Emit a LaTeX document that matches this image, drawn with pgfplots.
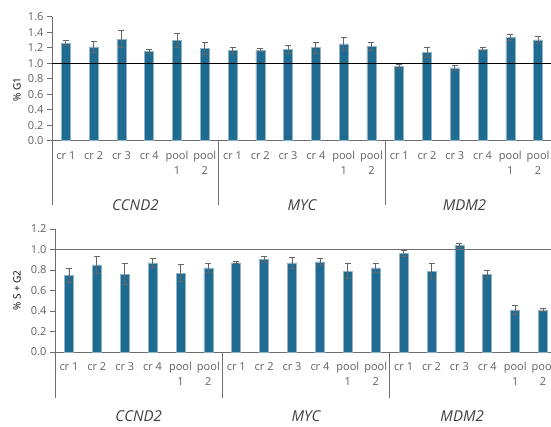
\documentclass[border=0pt]{standalone}
\usepackage{fontspec}
\setmainfont{Open Sans}
\usepackage{pgfplots}
\pgfplotsset{compat=1.18}
\usepackage{pgfplotstable}

\definecolor{barfill}{HTML}{1F6B91}
\definecolor{baredge}{HTML}{8FB4C8}
\definecolor{txtgray}{HTML}{606060}
\definecolor{axgray}{HTML}{6E6E6E}
\definecolor{errgray}{HTML}{666666}

\pgfplotstableread{
x y e
0 1.26 0.03
1 1.21 0.07
2 1.31 0.11
3 1.15 0.03
4 1.29 0.09
5 1.19 0.08
6 1.17 0.04
7 1.17 0.02
8 1.18 0.05
9 1.20 0.07
10 1.25 0.08
11 1.22 0.05
12 0.96 0.03
13 1.14 0.06
14 0.94 0.03
15 1.18 0.02
16 1.33 0.04
17 1.30 0.05
}\topdata

\pgfplotstableread{
x y e
0 0.75 0.07
1 0.85 0.08
2 0.76 0.10
3 0.87 0.04
4 0.77 0.08
5 0.82 0.04
6 0.87 0.01
7 0.90 0.03
8 0.87 0.05
9 0.88 0.035
10 0.79 0.07
11 0.82 0.045
12 0.96 0.03
13 0.79 0.07
14 1.04 0.02
15 0.76 0.035
16 0.41 0.04
17 0.41 0.015
}\botdata

\tikzset{
  grouplab/.style={font=\fontsize{15}{18}\selectfont\itshape, text=black!75},
  sep/.style={draw=axgray, line width=0.8pt},
}

\pgfplotsset{
  mystyle/.style={
    scale only axis,
    xmin=-0.5, xmax=17.5, ymin=0,
    enlargelimits=false,
    axis x line*=bottom, axis y line*=left,
    axis line style={axgray, line width=0.8pt},
    xtick={0,...,17},
    xticklabels={cr 1,cr 2,cr 3,cr 4,pool\\1,pool\\2,cr 1,cr 2,cr 3,cr 4,pool\\1,pool\\2,cr 1,cr 2,cr 3,cr 4,pool\\1,pool\\2},
    xticklabel style={align=center, font=\fontsize{11}{14.5}\selectfont, text=txtgray, yshift=-2pt},
    xtick style={draw=none},
    ytick distance=0.2,
    yticklabel style={font=\fontsize{11}{13}\selectfont, text=txtgray, /pgf/number format/.cd, fixed, fixed zerofill, precision=1},
    /pgf/number format/assume math mode=true,
    tick align=outside, major tick length=5pt,
    ytick style={axgray, line width=0.8pt},
    ylabel style={font=\fontsize{11}{13}\selectfont, text=txtgray},
    clip=false,
  },
  barstyle/.style={ybar, bar width=9pt, fill=barfill, draw=baredge, line width=0.6pt,
    error bars/.cd, y dir=both, y explicit,
    error bar style={errgray, line width=0.8pt},
    error mark options={errgray, rotate=90, mark size=3pt, line width=0.8pt}},
}

\begin{document}
\begin{tikzpicture}[x=1pt,y=1pt]
\useasboundingbox (0,0) rectangle (551,426);

\begin{axis}[
  mystyle,
  at={(52pt,285.3pt)}, anchor=south west,
  width=500pt, height=124pt,
  ymax=1.6,
  ylabel={\% G1},
  every axis y label/.style={at={(axis description cs:0,0.41)}, xshift=-35pt, rotate=90, anchor=center},
]
\addplot[barstyle] table[x=x, y=y, y error=e] {\topdata};
\addplot[black, line width=1pt, sharp plot, forget plot] coordinates {(-0.5,1) (17.5,1)};
\draw[sep] (axis cs:-0.5,0) -- ++(0pt,-64pt);
\draw[sep] (axis cs:5.5,0) -- ++(0pt,-64pt);
\draw[sep] (axis cs:11.5,0) -- ++(0pt,-64pt);
\draw[sep] (axis cs:17.5,0) -- ++(0pt,-64pt);
\node[grouplab] at (axis cs:2.5,0) [yshift=-64pt] {CCND2};
\node[grouplab] at (axis cs:8.5,0) [yshift=-64pt] {MYC};
\node[grouplab] at (axis cs:14.35,0) [yshift=-64pt] {MDM2};
\end{axis}

\begin{axis}[
  mystyle,
  at={(55pt,74pt)}, anchor=south west,
  width=502pt, height=123pt,
  ymax=1.2,
  ylabel={\% S + G2},
  every axis y label/.style={at={(axis description cs:0,0.5)}, xshift=-38pt, rotate=90, anchor=center},
]
\addplot[barstyle] table[x=x, y=y, y error=e] {\botdata};
\addplot[axgray, line width=1.3pt, sharp plot, forget plot] coordinates {(-0.5,1) (17.5,1)};
\draw[sep] (axis cs:-0.5,0) -- ++(0pt,-46pt);
\draw[sep] (axis cs:5.5,0) -- ++(0pt,-46pt);
\draw[sep] (axis cs:11.5,0) -- ++(0pt,-46pt);
\node[grouplab] at (axis cs:2.5,0) [yshift=-64pt] {CCND2};
\node[grouplab] at (axis cs:8.5,0) [yshift=-64pt] {MYC};
\node[grouplab] at (axis cs:14.1,0) [yshift=-64pt] {MDM2};
\end{axis}
\end{tikzpicture}
\end{document}
